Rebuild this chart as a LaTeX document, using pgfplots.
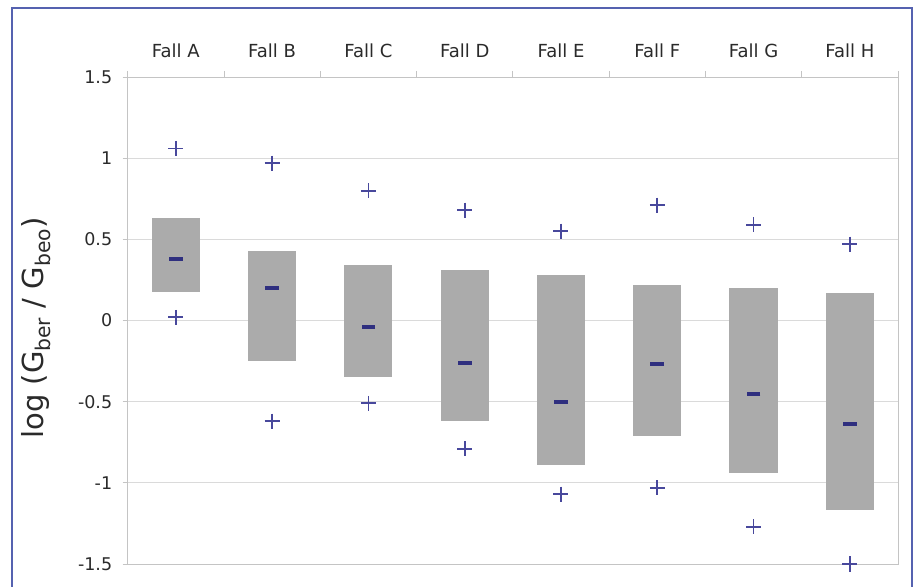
\documentclass[border=0pt]{standalone}
\usepackage{pgfplots}
\pgfplotsset{compat=1.18}
\usepackage{fontspec}
\setmainfont{DejaVu Sans}
\definecolor{boxgray}{HTML}{ABABAB}
\definecolor{medcol}{HTML}{2F2F7F}
\definecolor{pluscol}{HTML}{48489C}
\definecolor{gridcol}{HTML}{DADADA}
\definecolor{axiscol}{HTML}{C4C4C4}
\definecolor{framecol}{HTML}{5562B0}
\definecolor{txt}{HTML}{2A2A2A}
\begin{document}
\begin{tikzpicture}
\path[use as bounding box] (0,0) rectangle (918bp,587bp);
\begin{axis}[
  at={(127.7bp,23bp)}, anchor=south west,
  scale only axis, width=770.3bp, height=487bp,
  xmin=-0.5, xmax=7.5, ymin=-1.5, ymax=1.5,
  xtick={0,1,2,3,4,5,6,7},
  xticklabels={Fall A,Fall B,Fall C,Fall D,Fall E,Fall F,Fall G,Fall H},
  xtick pos=right, xticklabel pos=right,
  minor xtick={-0.5,0.5,1.5,2.5,3.5,4.5,5.5,6.5,7.5},
  major x tick style={draw=none},
  ytick={-1.5,-1,-0.5,0,0.5,1,1.5},
  ytick pos=left,
  tick align=outside,
  major tick length=5bp, minor tick length=6bp,
  tick style={axiscol, line width=0.8bp},
  ymajorgrids, grid style={gridcol, line width=0.9bp},
  axis line style={axiscol, line width=0.9bp},
  /pgf/number format/assume math mode=true,
  yticklabel style={font=\fontsize{17.5bp}{20bp}\selectfont, text=txt, xshift=-7bp},
  xticklabel style={font=\fontsize{18bp}{21bp}\selectfont, text=txt, yshift=11bp},
  ylabel={log (G\textsubscript{ber} / G\textsubscript{beo})},
  ylabel style={font=\fontsize{29bp}{32bp}\selectfont, text=txt, at={(axis description cs:-0.119,0.485)}, anchor=center},
  clip=false,
]
% boxes (lower quartile to upper quartile)
\addplot[fill=boxgray, draw=none] coordinates {(-0.25,0.175) (0.25,0.175) (0.25,0.63) (-0.25,0.63)};
\addplot[fill=boxgray, draw=none] coordinates {(0.75,-0.25) (1.25,-0.25) (1.25,0.43) (0.75,0.43)};
\addplot[fill=boxgray, draw=none] coordinates {(1.75,-0.35) (2.25,-0.35) (2.25,0.34) (1.75,0.34)};
\addplot[fill=boxgray, draw=none] coordinates {(2.75,-0.62) (3.25,-0.62) (3.25,0.31) (2.75,0.31)};
\addplot[fill=boxgray, draw=none] coordinates {(3.75,-0.89) (4.25,-0.89) (4.25,0.28) (3.75,0.28)};
\addplot[fill=boxgray, draw=none] coordinates {(4.75,-0.71) (5.25,-0.71) (5.25,0.22) (4.75,0.22)};
\addplot[fill=boxgray, draw=none] coordinates {(5.75,-0.94) (6.25,-0.94) (6.25,0.20) (5.75,0.20)};
\addplot[fill=boxgray, draw=none] coordinates {(6.75,-1.17) (7.25,-1.17) (7.25,0.17) (6.75,0.17)};
% medians
\addplot[only marks, mark=-, mark size=6.8bp, mark options={medcol, line width=3.9bp}] coordinates {
(0,0.38) (1,0.20) (2,-0.04) (3,-0.26) (4,-0.50) (5,-0.27) (6,-0.455) (7,-0.64)};
% maxima
\addplot[only marks, mark=+, mark size=7.5bp, mark options={pluscol, line width=1.8bp}] coordinates {
(0,1.06) (1,0.97) (2,0.80) (3,0.68) (4,0.55) (5,0.71) (6,0.59) (7,0.47)};
% minima
\addplot[only marks, mark=+, mark size=7.5bp, mark options={pluscol, line width=1.8bp}] coordinates {
(0,0.02) (1,-0.62) (2,-0.51) (3,-0.79) (4,-1.07) (5,-1.03) (6,-1.27) (7,-1.50)};
\end{axis}
\draw[framecol, line width=2.5bp] (12bp,-5bp) -- (12bp,579bp) -- (912bp,579bp) -- (912bp,-5bp);
\end{tikzpicture}
\end{document}
